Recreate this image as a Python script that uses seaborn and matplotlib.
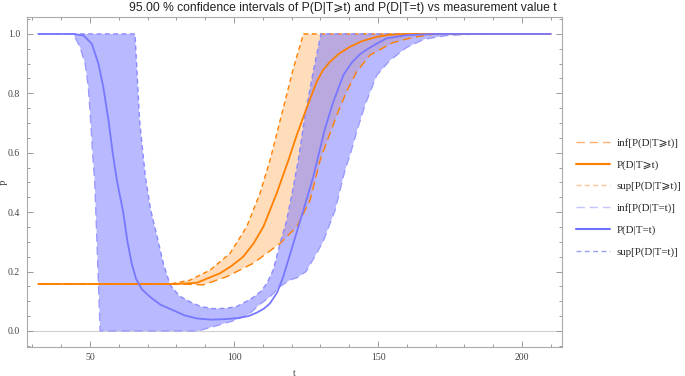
import numpy as np
import pandas as pd
import matplotlib
matplotlib.use("Agg")
import matplotlib.pyplot as plt
from matplotlib.lines import Line2D
from matplotlib.ticker import MultipleLocator
import seaborn as sns

# values
t_eq = [32, 44, 47.7, 50.6, 52.9, 54.6, 56.4, 57.9, 59.3, 61.5, 63, 64.5, 66, 68, 70.8, 74.5, 78.8,
        83, 87.2, 92, 97, 101, 105, 108, 110.5, 112.5, 115, 117.1, 120.6, 124.1, 127.5, 131.6, 134.5,
        138, 141, 143.8, 146.5, 149.5, 153, 160, 170, 210]
p_eq = [1, 1, 0.995, 0.967, 0.9, 0.821, 0.709, 0.597, 0.508, 0.4, 0.3, 0.225, 0.175, 0.14, 0.115, 0.088, 0.07,
        0.052, 0.042, 0.038, 0.04, 0.043, 0.05, 0.062, 0.076, 0.093, 0.13, 0.183, 0.295, 0.407, 0.519, 0.682, 0.772,
        0.862, 0.905, 0.932, 0.95, 0.967, 0.985, 0.996, 1.0, 1.0]

t_eq_sup = [32, 65.6, 67.2, 69.2, 71, 73.3, 75.5, 77.8, 81, 84.7, 88.5, 92.8, 97, 100.9, 104, 107,
            109.5, 111.5, 113.6, 116, 118.3, 120.6, 122.3, 124.7, 127.5, 130.2, 210]
p_eq_sup = [1, 1, 0.709, 0.52, 0.41, 0.317, 0.225, 0.155, 0.118, 0.098, 0.082, 0.075, 0.076, 0.082, 0.098, 0.115,
            0.135, 0.162, 0.205, 0.295, 0.373, 0.485, 0.575, 0.727, 0.873, 1.0, 1.0]

t_eq_inf = [32, 44.2, 46.5, 48.3, 49.4, 50.2, 50.9, 51.6, 52.4, 53.5, 87.5, 94, 100, 105, 109, 112.5,
            116, 119.5, 122, 125, 127.4, 130.9, 135.1, 138.5, 140.3, 142.6, 145.5, 149.5, 154, 160,
            166, 174, 185, 210]
p_eq_inf = [1, 1, 0.956, 0.9, 0.821, 0.709, 0.597, 0.508, 0.3, 0, 0, 0.018, 0.035, 0.055, 0.09, 0.115,
            0.15, 0.172, 0.18, 0.2, 0.24, 0.3, 0.407, 0.54, 0.593, 0.671, 0.761, 0.86, 0.91, 0.955,
            0.982, 0.995, 1.0, 1.0]

t_ge = [32, 80, 87, 95.1, 99, 103.2, 106.8, 110.2, 114.8, 118.9, 121.8, 125.2, 128.7, 130.8, 133.3, 136.5,
        140.3, 144.5, 149.5, 154, 160, 210]
p_ge = [0.158, 0.158, 0.162, 0.194, 0.218, 0.25, 0.295, 0.351, 0.463, 0.575, 0.66, 0.75, 0.839, 0.877, 0.906, 0.934,
        0.957, 0.976, 0.99, 0.997, 1.0, 1.0]

t_ge_sup = [32, 77.8, 84.7, 91.7, 98.6, 104.4, 109, 112.5, 117.1, 120.6, 124.1, 210]
p_ge_sup = [0.158, 0.158, 0.171, 0.205, 0.261, 0.351, 0.463, 0.575, 0.75, 0.884, 1.0, 1.0]

t_ge_inf = [32, 82, 89.3, 97.5, 106.7, 116, 121.8, 126.4, 129.9, 132.7, 135.7, 139.1, 142.6, 147.2,
            155, 162, 170, 210]
p_ge_inf = [0.158, 0.158, 0.155, 0.183, 0.228, 0.295, 0.351, 0.44, 0.575, 0.649, 0.727, 0.806, 0.873, 0.929,
            0.97, 0.988, 1.0, 1.0]

orange = "#ff8000"
blue = "#8080ff"

sns.set_theme(style="ticks")
plt.rcParams["font.family"] = ["Liberation Serif", "DejaVu Serif", "DejaVu Sans"]

fig = plt.figure(figsize=(6.85, 3.76), dpi=100)
ax = fig.add_axes([27 / 685, 1 - 347 / 376, 535 / 685, 330 / 376])

ax.axhline(0, color="#d0d0d0", lw=0.8, zorder=0)

# bands as polygons: upper curve forward, lower curve back
ax.fill(t_ge_sup + t_ge_inf[::-1], p_ge_sup + p_ge_inf[::-1], color=orange, alpha=0.27, lw=0)
ax.fill(t_eq_sup + t_eq_inf[::-1], p_eq_sup + p_eq_inf[::-1], color=blue, alpha=0.55, lw=0)

curves = [
    (t_ge_inf, p_ge_inf, orange, (0, (6, 3.5)), 1.0),
    (t_ge_sup, p_ge_sup, orange, (0, (3.5, 2.5)), 1.0),
    (t_eq_inf, p_eq_inf, "#9a9aff", (0, (6, 3.5)), 1.0),
    (t_eq_sup, p_eq_sup, "#8a8aff", (0, (3.5, 2.5)), 1.0),
    (t_ge, p_ge, orange, "-", 1.3),
    (t_eq, p_eq, "#7878ff", "-", 1.3),
]
for tt, pp, c, ls, lw in curves:
    df = pd.DataFrame({"t": tt, "P": pp})
    sns.lineplot(data=df, x="t", y="P", ax=ax, color=c, linestyle=ls, lw=lw, sort=False)

ax.set_xlim(28.1, 213.9)
ax.set_ylim(-0.054, 1.057)
ax.xaxis.set_major_locator(MultipleLocator(50))
ax.xaxis.set_minor_locator(MultipleLocator(10))
ax.yaxis.set_major_locator(MultipleLocator(0.2))
ax.yaxis.set_minor_locator(MultipleLocator(0.05))
ax.yaxis.set_major_formatter(matplotlib.ticker.FormatStrFormatter("%.1f"))
ax.tick_params(which="both", direction="in", top=True, right=True, color="#999999",
               labelsize=7, labelcolor="#444444", width=0.7)
ax.tick_params(which="major", length=4)
ax.tick_params(which="minor", length=2)
ax.tick_params(axis="x", pad=4)
ax.tick_params(axis="y", pad=5)
for s in ax.spines.values():
    s.set_color("#aaaaaa")
    s.set_linewidth(0.8)

ax.set_xlabel("t", fontsize=7, color="#444444", labelpad=5)
ax.set_ylabel("P", fontsize=7, color="#444444")
ax.yaxis.set_label_coords(-0.033, 0.5)

fig.suptitle("95.00 % confidence intervals of P(D|T\u2a7et) and P(D|T=t) vs measurement value t",
             x=0.5, y=0.995, fontsize=8.7, color="#222222",
             family=["Liberation Sans", "DejaVu Sans"])

handles = [
    Line2D([], [], color="#ffb070", lw=1.0, linestyle=(0, (6, 3.5))),
    Line2D([], [], color=orange, lw=1.5),
    Line2D([], [], color="#ffc490", lw=1.0, linestyle=(0, (3.5, 2.5))),
    Line2D([], [], color="#c4c4ff", lw=1.0, linestyle=(0, (6, 3.5))),
    Line2D([], [], color="#7070ff", lw=1.5),
    Line2D([], [], color="#a0a0ff", lw=1.0, linestyle=(0, (3.5, 2.5))),
]
labels = ["inf[P(D|T\u2a7et)]", "P(D|T\u2a7et)", "sup[P(D|T\u2a7et)]",
          "inf[P(D|T=t)]", "P(D|T=t)", "sup[P(D|T=t)]"]
fig.legend(handles, labels, loc="center left", bbox_to_anchor=(0.826, 0.475), frameon=False,
           fontsize=7.8, handlelength=3.2, handletextpad=0.6, labelspacing=1.1, borderpad=0.4)

fig.savefig("out.png", dpi=100)
